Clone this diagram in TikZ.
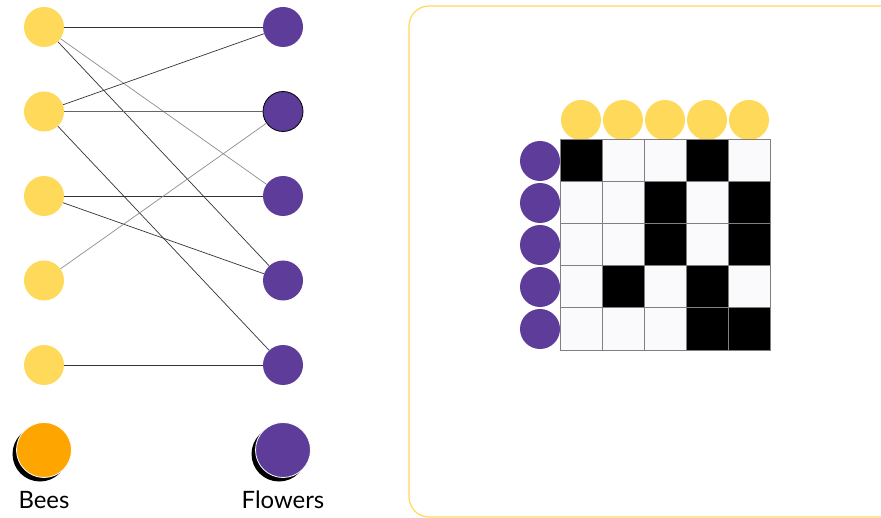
\documentclass[tikz,border=0pt]{standalone}
\usepackage{fontspec}
\newfontfamily\labelfont{Lato}
\usepackage{xcolor}
\usepackage{tikz}
\usetikzlibrary{positioning,calc}

\definecolor{beeyellow}{RGB}{255,217,90}
\definecolor{beeorange}{RGB}{255,165,0}
\definecolor{flowerpurple}{RGB}{94,60,153}
\definecolor{cellwhite}{RGB}{250,250,252}

\begin{document}
\begin{tikzpicture}[x=1bp,y=-1bp,
  bee/.style={circle,fill=beeyellow,minimum size=40bp,inner sep=0pt},
  flower/.style={circle,fill=flowerpurple,minimum size=40bp,inner sep=0pt},
  key/.style={circle,draw=white,line width=0.8bp,minimum size=55bp,inner sep=0pt},
  keylabel/.style={font=\labelfont\fontsize{24}{26}\selectfont,inner sep=0pt},
  link/.style={black!80,line width=0.7bp},
  faint/.style={black!45,line width=0.7bp},
  cell/.style={draw=black!50,line width=1bp,minimum size=42bp,inner sep=0pt}]
 \useasboundingbox (0,0) rectangle (881,518);
 % bees and flowers
 \foreach \i/\y in {1/27,2/111.5,3/196,4/280.5,5/365}{
   \node[bee] (b\i) at (44,\y) {};
   \node[flower] (f\i) at (283,\y) {};
 }
 \draw[black,line width=0.8bp] (f2) circle (20bp);
 % links
 \draw[link] (b1) -- (f1);
 \draw[link] (b1) -- (f4);
 \draw[faint] (b1) -- (f3);
 \draw[link] (b2) -- (f1);
 \draw[black!60,line width=0.9bp] (b2) -- (f2);
 \draw[link] (b2) -- (f5);
 \draw[link] (b3) -- (f3);
 \draw[link] (b3) -- (f4);
 \draw[faint] (b4) -- (f2);
 \draw[link] (b5) -- (f5);
 % legend
 \fill[black] (40,454) circle (27.5bp);
 \node[key,fill=beeorange] (kb) at (44,450) {};
 \fill[black] (279,454) circle (27.5bp);
 \node[key,fill=flowerpurple] (kf) at (283,450) {};
 \node[keylabel,below=13bp of kb] (lb) {Bees};
 \node[keylabel,below=13bp of kf] (lf) {Flowers};
 % adjacency panel
 \draw[beeyellow,line width=1.2bp,rounded corners=20bp] (409,6) rectangle (900,517);
 \foreach \j in {1,...,5}{
   \node[bee] (cb\j) at ({539+42*\j},120) {};
   \node[flower] (rf\j) at (540,{119+42*\j}) {};
 }
 \foreach \r/\row in {1/{1,0,0,1,0},2/{0,0,1,0,1},3/{0,0,1,0,1},4/{0,1,0,1,0},5/{0,0,0,1,1}}{
   \foreach \v [count=\c] in \row{
     \ifnum\v=1 \def\cellfill{black}\else \def\cellfill{cellwhite}\fi
     \node[cell,fill=\cellfill] (m\r\c) at ({539+42*\c},{119+42*\r}) {};
   }
 }
\end{tikzpicture}
\end{document}
